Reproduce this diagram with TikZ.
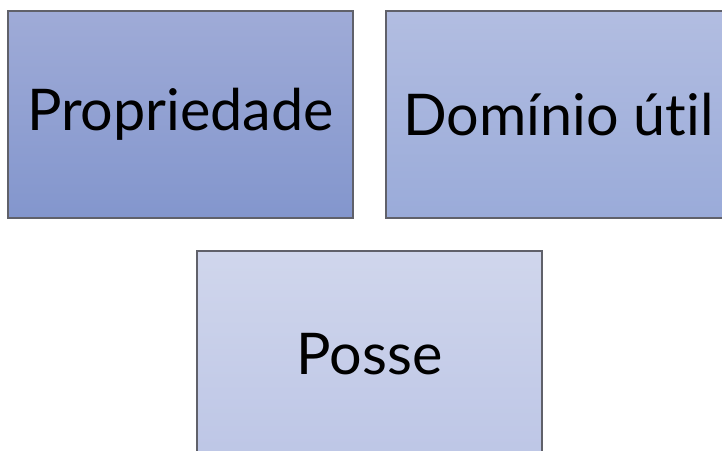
\documentclass[tikz,border=0pt]{standalone}
\usepackage{fontspec}
\setmainfont{Lato}[Ligatures={NoCommon}]
\definecolor{edge}{HTML}{60616A}
\definecolor{aTop}{HTML}{9FABD7}
\definecolor{aBot}{HTML}{8396CD}
\definecolor{bTop}{HTML}{B2BDE1}
\definecolor{bBot}{HTML}{9AABD9}
\definecolor{cTop}{HTML}{D0D6EC}
\definecolor{cBot}{HTML}{BDC6E6}
\begin{document}
\begin{tikzpicture}[x=1pt,y=-1pt,
  card/.style={draw=edge, line width=1.5pt, minimum width=345pt, minimum height=207pt,
    inner sep=0pt, font=\fontsize{57.5}{62}\selectfont, text=black},
  cardA/.style={card, top color=aTop, bottom color=aBot},
  cardB/.style={card, top color=bTop, bottom color=bBot},
  cardC/.style={card, top color=cTop, bottom color=cBot}]
\useasboundingbox (0,0) rectangle (722,450);
\clip (0,0) rectangle (722,450);
\node[cardA] (prop) at (180.5,114.5) {Propriedade};
\node[cardB] (dom) at (558.5,114.5) {Domínio útil};
\node[cardC] (posse) at (369.5,354.5) {Posse};
\end{tikzpicture}
\end{document}
